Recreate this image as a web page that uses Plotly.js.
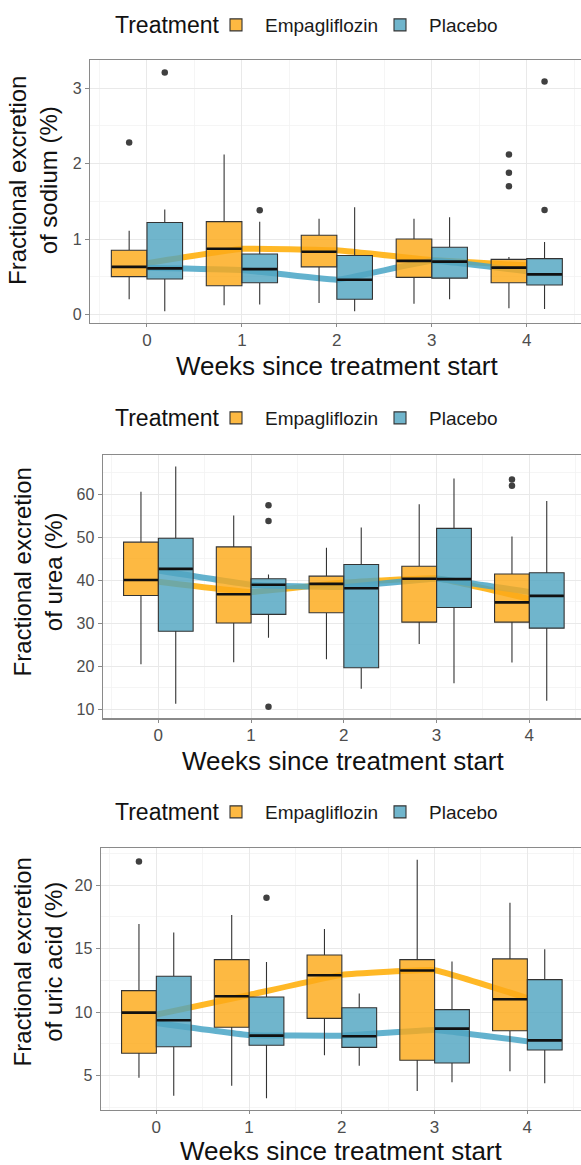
<!DOCTYPE html>
<html>
<head>
<meta charset="utf-8">
<script src="https://cdn.plot.ly/plotly-3.0.1.min.js"></script>
<style>
html,body{margin:0;padding:0;overflow:hidden;background:#fff;}
#chart{width:590px;height:1165px;}
</style>
</head>
<body>
<div id="chart"></div>
<script>
// ---------------- DATA ----------------
const weeks = [0, 1, 2, 3, 4];
const weekLabels = ["0", "1", "2", "3", "4"];
const groups = ["Empagliflozin", "Placebo"];

// Sodium (%)
const naEmpaQ1  = [0.50, 0.38, 0.63, 0.49, 0.42];
const naEmpaMed = [0.63, 0.87, 0.83, 0.71, 0.62];
const naEmpaQ3  = [0.85, 1.23, 1.05, 1.00, 0.73];
const naEmpaLo  = [0.20, 0.12, 0.15, 0.14, 0.08];
const naEmpaHi  = [1.11, 2.12, 1.27, 1.27, 0.76];
const naPlacQ1  = [0.47, 0.42, 0.20, 0.48, 0.39];
const naPlacMed = [0.61, 0.60, 0.46, 0.70, 0.53];
const naPlacQ3  = [1.22, 0.80, 0.78, 0.89, 0.74];
const naPlacLo  = [0.04, 0.13, 0.04, 0.20, 0.07];
const naPlacHi  = [1.39, 1.23, 1.42, 1.29, 0.96];
const naEmpaOutWeek = [0, 4, 4, 4];
const naEmpaOutVal  = [2.28, 2.12, 1.88, 1.70];
const naPlacOutWeek = [0, 1, 4, 4];
const naPlacOutVal  = [3.21, 1.38, 3.09, 1.385];
const naEmpaTrend = [0.68, 0.87, 0.85, 0.72, 0.65];
const naPlacTrend = [0.62, 0.59, 0.46, 0.71, 0.57];

// Urea (%)
const urEmpaQ1  = [36.4, 30.0, 32.4, 30.2, 30.2];
const urEmpaMed = [40.0, 36.7, 39.1, 40.3, 34.8];
const urEmpaQ3  = [48.8, 47.7, 40.9, 43.2, 41.4];
const urEmpaLo  = [20.4, 20.9, 21.6, 25.1, 20.8];
const urEmpaHi  = [60.5, 55.0, 47.5, 57.6, 50.1];
const urPlacQ1  = [28.1, 32.0, 19.6, 33.6, 28.8];
const urPlacMed = [42.6, 38.9, 38.1, 40.2, 36.3];
const urPlacQ3  = [49.7, 40.3, 43.6, 52.0, 41.7];
const urPlacLo  = [11.2, 26.6, 14.7, 16.0, 11.9];
const urPlacHi  = [66.4, 41.3, 52.2, 63.6, 58.4];
const urEmpaOutWeek = [4, 4];
const urEmpaOutVal  = [63.4, 61.9];
const urPlacOutWeek = [1, 1, 1];
const urPlacOutVal  = [57.4, 53.7, 10.5];
const urEmpaTrend = [39.6, 37.2, 39.4, 40.4, 35.6];
const urPlacTrend = [42.2, 38.9, 38.4, 40.3, 37.2];

// Uric acid (%)
const uaEmpaQ1  = [6.76, 8.81, 9.51, 6.21, 8.54];
const uaEmpaMed = [9.96, 11.25, 12.90, 13.27, 11.01];
const uaEmpaQ3  = [11.69, 14.13, 14.50, 14.13, 14.19];
const uaEmpaLo  = [4.84, 4.21, 6.60, 3.79, 5.34];
const uaEmpaHi  = [16.94, 17.65, 16.55, 21.98, 18.60];
const uaPlacQ1  = [7.28, 7.39, 7.23, 6.00, 7.02];
const uaPlacMed = [9.36, 8.15, 8.10, 8.70, 7.78];
const uaPlacQ3  = [12.82, 11.19, 10.35, 10.20, 12.56];
const uaPlacLo  = [3.43, 3.22, 5.79, 4.48, 4.40];
const uaPlacHi  = [16.26, 13.95, 11.46, 13.98, 14.95];
const uaEmpaOutWeek = [0];
const uaEmpaOutVal  = [21.85];
const uaPlacOutWeek = [1];
const uaPlacOutVal  = [18.99];
const uaEmpaTrend = [9.8, 11.35, 12.93, 13.3, 11.1];
const uaPlacTrend = [9.15, 8.2, 8.15, 8.6, 7.7];

const yTitles = ["Fractional excretion<br>of sodium (%)", "Fractional excretion<br>of urea (%)", "Fractional excretion<br>of uric acid (%)"];
const xTitle = "Weeks since treatment start";
const legendTitle = "Treatment";

// ---------------- STYLE / LAYOUT ----------------
const W = 590, H = 1165;
const FONT = "Liberation Sans, Arial, Helvetica, sans-serif";
const empaFill = "rgba(252,170,25,0.82)";
const placFill = "rgba(80,165,193,0.82)";
const empaLine = "rgba(255,172,0,0.85)";
const placLine = "rgba(72,164,198,0.85)";
const DODGE = 0.1875, BOXW = 0.375;

const panels = [
  {box:[naEmpaQ1,naEmpaMed,naEmpaQ3,naEmpaLo,naEmpaHi], pbox:[naPlacQ1,naPlacMed,naPlacQ3,naPlacLo,naPlacHi],
   eo:[naEmpaOutWeek,naEmpaOutVal], po:[naPlacOutWeek,naPlacOutVal], et:naEmpaTrend, pt:naPlacTrend,
   geom:{l:90,r:583.7,t:60,b:323}, yr:[-0.115,3.376], dt:1, t0:0, mdt:0.5,
   ytp:{x:33,y:181}, xtp:{x:337,y:366}, leg:{y:25}},
  {box:[urEmpaQ1,urEmpaMed,urEmpaQ3,urEmpaLo,urEmpaHi], pbox:[urPlacQ1,urPlacMed,urPlacQ3,urPlacLo,urPlacHi],
   eo:[urEmpaOutWeek,urEmpaOutVal], po:[urPlacOutWeek,urPlacOutVal], et:urEmpaTrend, pt:urPlacTrend,
   geom:{l:102.7,r:585,t:455,b:718.3}, yr:[7.84,69.07], dt:10, t0:0, mdt:5,
   ytp:{x:37.5,y:572}, xtp:{x:343,y:761}, leg:{y:418}},
  {box:[uaEmpaQ1,uaEmpaMed,uaEmpaQ3,uaEmpaLo,uaEmpaHi], pbox:[uaPlacQ1,uaPlacMed,uaPlacQ3,uaPlacLo,uaPlacHi],
   eo:[uaEmpaOutWeek,uaEmpaOutVal], po:[uaPlacOutWeek,uaPlacOutVal], et:uaEmpaTrend, pt:uaPlacTrend,
   geom:{l:100.7,r:583,t:848.3,b:1110}, yr:[2.30,22.89], dt:5, t0:0, mdt:2.5,
   ytp:{x:37,y:962.5}, xtp:{x:341,y:1151}, leg:{y:812}}
];

const data = [];
const layout = {
  width: W, height: H,
  margin: {l:0, r:0, t:0, b:0},
  paper_bgcolor: "#fff", plot_bgcolor: "#fff",
  font: {family: FONT, color: "#1a1a1a"},
  boxmode: "overlay",
  showlegend: true,
  annotations: []
};

function medianSegments(med, off) {
  const xs = [], ys = [];
  weeks.forEach((w, i) => {
    xs.push(w + off - BOXW / 2 + 0.004, w + off + BOXW / 2 - 0.004, null);
    ys.push(med[i], med[i], null);
  });
  return {xs, ys};
}

panels.forEach((p, k) => {
  const b = k + 1, o = k + 4;
  const bx = "x" + b, by = "y" + b, ox = "x" + o, oy = "y" + o;
  const legName = k === 0 ? "legend" : "legend" + (k + 1);

  // trend lines (base subplot, drawn under boxes)
  [[p.et, empaLine], [p.pt, placLine]].forEach(([vals, col]) => {
    data.push({type:"scatter", mode:"lines", x:weeks, y:vals, xaxis:bx, yaxis:by,
      line:{color:col, width:6, shape:"spline", smoothing:0.25}, showlegend:false, hoverinfo:"skip"});
  });

  // boxes (overlay subplot)
  [[p.box, groups[0], empaFill, -DODGE], [p.pbox, groups[1], placFill, DODGE]].forEach(([s, name, fill, off]) => {
    data.push({type:"box", name:name, x:weeks.map(w => w + off), width:BOXW,
      q1:s[0], median:s[1], q3:s[2], lowerfence:s[3], upperfence:s[4],
      xaxis:ox, yaxis:oy, fillcolor:fill, line:{color:"#333333", width:1.1}, whiskerwidth:0,
      boxpoints:false, legend:legName, showlegend:true, hoverinfo:"skip"});
  });

  // thick median bars
  [[p.box[1], -DODGE], [p.pbox[1], DODGE]].forEach(([med, off]) => {
    const seg = medianSegments(med, off);
    data.push({type:"scatter", mode:"lines", x:seg.xs, y:seg.ys, xaxis:ox, yaxis:oy,
      line:{color:"#111111", width:2.6}, showlegend:false, hoverinfo:"skip", connectgaps:false});
  });

  // outliers
  [[p.eo, -DODGE], [p.po, DODGE]].forEach(([out, off]) => {
    data.push({type:"scatter", mode:"markers", x:out[0].map(w => w + off), y:out[1], xaxis:ox, yaxis:oy,
      marker:{color:"#404040", size:6.5}, showlegend:false, hoverinfo:"skip"});
  });

  const g = p.geom;
  const xdom = [g.l / W, g.r / W];
  const ydom = [1 - g.b / H, 1 - g.t / H];
  const gridc = "#e9e9e9", minorc = "#f2f2f2", linec = "#8a8a8a";

  layout["xaxis" + b] = {
    domain: xdom, anchor: by, range: [-0.6, 4.6],
    tickmode: "array", tickvals: weeks, ticktext: weekLabels,
    showgrid: true, gridcolor: gridc, gridwidth: 1,
    minor: {tickmode:"linear", tick0:0.5, dtick:1, showgrid:true, gridcolor:minorc, gridwidth:0.8, ticks:""},
    showline: true, mirror: true, linecolor: linec, linewidth: 1.2,
    ticks: "outside", ticklen: 3, tickcolor: linec, tickwidth: 1, ticklabelstandoff: -2,
    tickfont: {size: 17, color: "#4d4d4d", family: FONT},
    zeroline: false, fixedrange: true
  };
  layout["yaxis" + b] = {
    domain: ydom, anchor: bx, range: p.yr,
    tickmode: "linear", tick0: p.t0, dtick: p.dt,
    showgrid: true, gridcolor: gridc, gridwidth: 1,
    minor: {tickmode:"linear", tick0:p.t0, dtick:p.mdt, showgrid:true, gridcolor:minorc, gridwidth:0.8, ticks:""},
    showline: true, mirror: true, linecolor: linec, linewidth: 1.2,
    ticks: "outside", ticklen: 4, tickcolor: linec, tickwidth: 1,
    tickfont: {size: 16, color: "#4d4d4d", family: FONT},
    zeroline: false, fixedrange: true
  };
  layout["xaxis" + o] = {overlaying: bx, anchor: oy, range: [-0.6, 4.6], visible: false, fixedrange: true};
  layout["yaxis" + o] = {overlaying: by, anchor: ox, range: p.yr, visible: false, fixedrange: true};

  layout[legName] = {
    orientation: "h", x: 207 / W, xanchor: "left", y: 1 - p.leg.y / H, yanchor: "middle",
    font: {size: 19, color: "#1a1a1a", family: FONT}, itemwidth: 48,
    entrywidth: 101, entrywidthmode: "pixels",
    bgcolor: "rgba(0,0,0,0)", itemclick: false, itemdoubleclick: false
  };

  // legend title
  layout.annotations.push({
    xref: "paper", yref: "paper", x: 113 / W, y: 1 - p.leg.y / H,
    xanchor: "left", yanchor: "middle", showarrow: false,
    text: legendTitle, font: {size: 23, color: "#111", family: FONT}
  });
  layout.annotations.push({
    xref: "paper", yref: "paper", x: p.ytp.x / W, y: 1 - p.ytp.y / H,
    xanchor: "center", yanchor: "middle", textangle: -90, showarrow: false,
    text: yTitles[k], font: {size: 24, color: "#111", family: FONT}
  });
  layout.annotations.push({
    xref: "paper", yref: "paper", x: p.xtp.x / W, y: 1 - p.xtp.y / H,
    xanchor: "center", yanchor: "middle", showarrow: false,
    text: xTitle, font: {size: 26, color: "#111", family: FONT}
  });
});

Plotly.newPlot("chart", data, layout, {displayModeBar: false, staticPlot: true});
</script>
</body>
</html>
